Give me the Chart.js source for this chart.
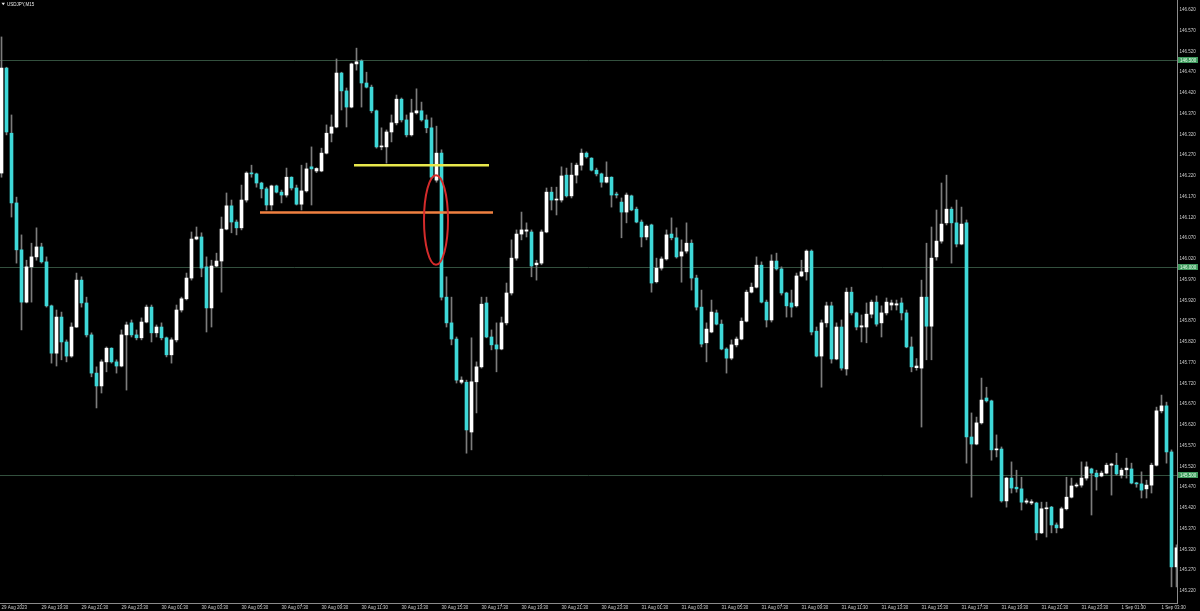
<!DOCTYPE html>
<html><head><meta charset="utf-8">
<script src="https://cdn.jsdelivr.net/npm/chart.js@4.4.0/dist/chart.umd.min.js"></script>
<style>html,body{margin:0;padding:0;background:#000;overflow:hidden}canvas{display:block}</style>
</head><body>
<canvas id="c" width="1200" height="611"></canvas>
<script>
const symbolTitle = "USDJPY,M15";

const opens = [
146.227,146.480,146.323,146.155,146.042,145.916,146.001,146.025,146.049,146.013,
145.907,145.793,145.880,145.820,145.786,145.856,145.969,145.914,145.837,145.745,
145.714,145.772,145.805,145.772,145.762,145.837,145.866,145.837,145.830,145.868,
145.904,145.842,145.856,145.830,145.789,145.825,145.897,145.924,145.974,146.068,
146.073,146.001,145.902,146.003,146.015,146.092,146.148,146.109,146.095,146.162,
146.227,146.225,146.203,146.189,146.150,146.196,146.181,146.174,146.217,146.191,
146.152,146.184,146.242,146.232,146.232,146.275,146.323,146.338,146.468,146.425,
146.386,146.490,146.497,146.444,146.434,146.377,146.290,146.290,146.326,146.348,
146.405,146.355,146.319,146.372,146.377,146.355,146.336,146.210,146.275,145.928,
145.866,145.827,145.723,145.723,145.603,145.724,145.760,145.914,145.832,145.813,
145.803,145.866,145.938,146.022,146.080,146.087,146.085,146.006,146.010,146.085,
146.181,146.162,146.162,146.222,146.172,146.222,146.246,146.275,146.263,146.234,
146.225,146.205,146.217,146.176,146.157,146.133,146.172,146.140,146.109,146.073,
146.102,145.965,145.998,146.020,146.080,146.071,146.027,146.039,146.058,145.974,
145.904,145.818,145.844,145.890,145.863,145.803,145.781,145.813,145.827,145.870,
145.940,145.952,146.005,145.916,145.873,146.015,145.996,145.938,145.914,145.907,
145.979,145.989,146.039,145.846,145.786,145.866,145.907,145.779,145.856,145.755,
145.940,145.890,145.856,145.856,145.887,145.916,145.866,145.890,145.909,145.909,
145.914,145.890,145.808,145.758,145.757,145.928,145.858,146.025,146.063,146.107,
146.140,146.107,146.056,146.107,145.591,145.574,145.625,145.685,145.678,145.560,
145.562,145.437,145.492,145.470,145.466,145.434,145.432,145.432,145.360,145.418,
145.422,145.379,145.372,145.418,145.446,145.473,145.475,145.492,145.514,145.504,
145.497,145.504,145.523,145.523,145.499,145.512,145.514,145.480,145.478,145.466,
145.475,145.523,145.654,145.666,145.555,145.278];

const highs = [
146.555,146.482,146.367,146.169,146.078,146.017,146.058,146.095,146.058,146.025,
145.909,145.897,145.892,145.825,145.866,145.986,145.977,145.928,145.842,145.760,
145.777,145.808,145.806,145.777,145.849,145.868,145.873,145.849,145.878,145.909,
145.909,145.861,145.866,145.832,145.830,145.909,145.928,145.986,146.085,146.097,
146.083,146.025,146.017,146.034,146.121,146.179,146.162,146.114,146.198,146.230,
146.246,146.227,146.205,146.193,146.198,146.198,146.186,146.239,146.218,146.198,
146.246,146.251,146.290,146.240,146.287,146.343,146.367,146.502,146.470,146.432,
146.492,146.528,146.500,146.470,146.439,146.379,146.336,146.331,146.367,146.415,
146.408,146.367,146.405,146.430,146.398,146.367,146.360,146.340,146.283,145.977,
145.928,145.832,145.736,145.728,145.830,145.772,145.928,145.928,145.849,145.866,
145.880,145.962,146.066,146.090,146.133,146.107,146.090,146.017,146.090,146.191,
146.193,146.193,146.242,146.239,146.251,146.251,146.285,146.278,146.264,146.239,
146.227,146.254,146.218,146.181,146.167,146.179,146.174,146.145,146.114,146.102,
146.104,146.022,146.025,146.090,146.119,146.095,146.066,146.107,146.066,145.981,
145.945,145.866,145.921,145.897,145.873,145.806,145.825,145.832,145.878,145.945,
145.962,146.025,146.013,145.921,146.030,146.034,146.001,145.940,145.945,145.986,
146.017,146.042,146.042,145.856,145.873,145.916,145.916,145.866,145.873,145.950,
145.952,145.892,145.885,145.914,145.921,145.931,145.907,145.926,145.921,145.921,
145.926,145.897,145.832,145.780,145.969,146.058,146.097,146.138,146.203,146.222,
146.145,146.162,146.145,146.114,145.649,145.639,145.733,145.711,145.680,145.596,
145.567,145.494,145.531,145.511,145.494,145.442,145.440,145.434,145.434,145.434,
145.424,145.384,145.422,145.494,145.492,145.480,145.531,145.531,145.516,145.511,
145.509,145.528,145.528,145.552,145.516,145.540,145.528,145.482,145.507,145.487,
145.528,145.663,145.692,145.675,145.560,145.331];

const lows = [
146.217,146.319,146.121,146.010,145.849,145.914,145.916,146.017,146.010,145.904,
145.769,145.762,145.777,145.772,145.783,145.855,145.904,145.832,145.736,145.661,
145.697,145.748,145.769,145.745,145.760,145.704,145.832,145.825,145.825,145.866,
145.820,145.832,145.825,145.784,145.769,145.820,145.892,145.921,145.969,146.066,
145.977,145.844,145.856,146.001,145.940,146.090,146.083,146.078,146.090,146.157,
146.217,146.193,146.167,146.138,146.138,146.179,146.155,146.169,146.186,146.150,
146.138,146.181,146.150,146.228,146.230,146.273,146.302,146.336,146.379,146.338,
146.384,146.475,146.386,146.432,146.372,146.287,146.283,146.251,146.302,146.343,
146.350,146.314,146.316,146.369,146.352,146.324,146.213,146.205,145.921,145.856,
145.813,145.721,145.719,145.552,145.560,145.649,145.757,145.830,145.801,145.748,
145.801,145.861,145.933,146.017,146.066,146.073,145.977,145.969,146.006,146.083,
146.138,146.126,146.157,146.169,146.167,146.203,146.234,146.263,146.232,146.220,
146.193,146.203,146.145,146.167,146.071,146.107,146.136,146.107,146.049,146.066,
145.940,145.962,145.993,146.017,146.066,146.022,145.964,146.034,145.945,145.897,
145.808,145.772,145.842,145.861,145.801,145.745,145.777,145.808,145.825,145.868,
145.938,145.950,145.914,145.856,145.868,145.993,145.933,145.880,145.880,145.904,
145.977,145.969,145.837,145.784,145.711,145.856,145.769,145.777,145.752,145.740,
145.885,145.849,145.820,145.818,145.878,145.858,145.832,145.885,145.897,145.897,
145.873,145.806,145.748,145.752,145.615,145.777,145.777,146.017,146.058,146.102,
146.010,146.049,146.054,145.528,145.446,145.572,145.622,145.675,145.535,145.543,
145.434,145.422,145.456,145.458,145.415,145.430,145.428,145.343,145.358,145.350,
145.360,145.360,145.370,145.415,145.444,145.470,145.470,145.487,145.403,145.463,
145.495,145.502,145.451,145.499,145.492,145.492,145.478,145.470,145.444,145.444,
145.456,145.521,145.649,145.528,145.230,145.230];

const closes = [
146.480,146.326,146.155,146.042,145.916,146.001,146.025,146.049,146.013,145.907,
145.793,145.880,145.820,145.786,145.856,145.969,145.914,145.837,145.745,145.714,
145.772,145.805,145.772,145.762,145.837,145.861,145.837,145.830,145.868,145.904,
145.842,145.856,145.830,145.789,145.825,145.897,145.924,145.974,146.068,146.073,
145.998,145.902,146.003,146.015,146.092,146.148,146.109,146.095,146.162,146.227,
146.225,146.203,146.189,146.150,146.196,146.181,146.174,146.217,146.191,146.152,
146.184,146.237,146.237,146.238,146.275,146.323,146.338,146.468,146.425,146.386,
146.490,146.495,146.444,146.434,146.377,146.290,146.292,146.326,146.348,146.405,
146.355,146.319,146.372,146.377,146.355,146.336,146.217,146.275,145.928,145.866,
145.827,145.728,145.728,145.608,145.724,145.760,145.911,145.832,145.813,145.803,
145.866,145.938,146.022,146.080,146.090,146.090,146.003,146.010,146.085,146.181,
146.162,146.164,146.220,146.172,146.222,146.246,146.275,146.266,146.234,146.225,
146.205,146.217,146.174,146.174,146.133,146.174,146.138,146.109,146.073,146.099,
145.962,145.998,146.020,146.078,146.071,146.025,146.037,146.058,145.974,145.904,
145.815,145.851,145.892,145.863,145.803,145.781,145.813,145.827,145.870,145.940,
145.952,146.005,145.916,145.873,146.015,145.996,145.938,145.907,145.904,145.979,
145.989,146.039,145.844,145.786,145.866,145.907,145.779,145.856,145.757,145.940,
145.890,145.856,145.859,145.887,145.916,145.863,145.890,145.916,145.914,145.912,
145.890,145.808,145.760,145.762,145.928,145.858,146.022,146.063,146.104,146.140,
146.107,146.056,146.104,145.591,145.574,145.625,145.680,145.678,145.560,145.562,
145.437,145.492,145.468,145.466,145.434,145.437,145.435,145.360,145.418,145.420,
145.379,145.372,145.418,145.446,145.473,145.475,145.492,145.519,145.504,145.495,
145.504,145.523,145.526,145.502,145.511,145.516,145.480,145.478,145.463,145.475,
145.523,145.654,145.666,145.555,145.278,145.324];

const xTickLabels = ["29 Aug 2023","29 Aug 19:30","29 Aug 21:30","29 Aug 23:30","30 Aug 01:30","30 Aug 03:30",
"30 Aug 05:30","30 Aug 07:30","30 Aug 09:30","30 Aug 11:30","30 Aug 13:30","30 Aug 15:30","30 Aug 17:30",
"30 Aug 19:30","30 Aug 21:30","30 Aug 23:30","31 Aug 01:30","31 Aug 03:30","31 Aug 05:30","31 Aug 07:30",
"31 Aug 09:30","31 Aug 11:30","31 Aug 13:30","31 Aug 15:30","31 Aug 17:30","31 Aug 19:30","31 Aug 21:30",
"31 Aug 23:30","1 Sep 01:30","1 Sep 03:30"];
const barsPerLabel = 8;

const yTickValues = [146.620,146.570,146.520,146.470,146.420,146.370,146.320,146.270,146.220,146.170,
146.120,146.070,146.020,145.970,145.920,145.870,145.820,145.770,145.720,145.670,
145.620,145.570,145.520,145.470,145.420,145.370,145.320,145.270,145.220];

const levelPrices = [146.500, 146.000, 145.500];

// hand-drawn marks (in bar-index / price coordinates)
const yellowLine = {from: 70.5, to: 97.5, price: 146.246};
const orangeLine = {from: 51.7, to: 98.3, price: 146.132};
const redEllipse = {center: 86.9, price: 146.114, halfBars: 2.4, halfPrice: 0.108};

// ---- styles ----
const BULL = '#ffffff', BEAR = '#3ed8d8', WICK = '#7c7c7c';
const AXIS = '#8a8a8a', TXT = '#cfcfcf', LEVEL = '#33503e';
const LEVEL_BOX = '#3f9a5e', LEVEL_TXT = '#e6ffe9';
const FONT = 'Liberation Sans';

const idx = opens.map((_, i) => i);
const bodyData = idx.map(i => ({x: i, y: [opens[i], closes[i]]}));
const wickData = idx.map(i => ({x: i, y: [lows[i], highs[i]]}));
const bodyColors = idx.map(i => closes[i] >= opens[i] ? BULL : BEAR);
const xTickIdx = xTickLabels.map((_, k) => k * barsPerLabel);

const overlay = {
  id: 'overlay',
  beforeDatasetsDraw(chart) {
    const {ctx, chartArea: a, scales: {y}} = chart;
    ctx.save();
    ctx.strokeStyle = LEVEL; ctx.lineWidth = 1;
    levelPrices.forEach(p => {
      const py = Math.round(y.getPixelForValue(p)) + 0.5;
      ctx.beginPath(); ctx.moveTo(a.left, py); ctx.lineTo(a.right, py); ctx.stroke();
    });
    ctx.restore();
  },
  afterDatasetsDraw(chart) {
    const {ctx, scales: {x, y}} = chart;
    ctx.save();
    ctx.lineCap = 'butt';
    [[yellowLine, '#e8e84c'], [orangeLine, '#ef8040']].forEach(([s, col]) => {
      const py = y.getPixelForValue(s.price);
      ctx.strokeStyle = col; ctx.lineWidth = 2.5;
      ctx.beginPath(); ctx.moveTo(x.getPixelForValue(s.from), py); ctx.lineTo(x.getPixelForValue(s.to), py); ctx.stroke();
    });
    const cx = x.getPixelForValue(redEllipse.center);
    const cy = y.getPixelForValue(redEllipse.price);
    const rx = x.getPixelForValue(redEllipse.center + redEllipse.halfBars) - cx;
    const ry = Math.abs(y.getPixelForValue(redEllipse.price + redEllipse.halfPrice) - cy);
    ctx.strokeStyle = '#d42b2b'; ctx.lineWidth = 2;
    ctx.beginPath(); ctx.ellipse(cx, cy, rx, ry, 0, 0, Math.PI * 2); ctx.stroke();
    ctx.restore();
  },
  afterDraw(chart) {
    const {ctx, chartArea: a, scales: {y}} = chart;
    ctx.save();
    ctx.font = '4.5px "' + FONT + '"';
    ctx.textBaseline = 'middle';
    levelPrices.forEach(p => {
      const py = Math.round(y.getPixelForValue(p));
      ctx.fillStyle = LEVEL_BOX;
      ctx.fillRect(a.right + 1, py - 3, 20, 6);
      ctx.fillStyle = LEVEL_TXT;
      ctx.textAlign = 'left';
      ctx.fillText(p.toFixed(3), a.right + 3, py + 0.5);
    });
    // title
    ctx.fillStyle = '#e8e8e8';
    ctx.beginPath(); ctx.moveTo(1.5, 2.8); ctx.lineTo(5, 2.8); ctx.lineTo(3.25, 5.3); ctx.closePath(); ctx.fill();
    ctx.textAlign = 'left';
    ctx.fillText(symbolTitle, 7, 4.3);
    ctx.restore();
  }
};

new Chart(document.getElementById('c'), {
  type: 'bar',
  data: {
    datasets: [
      {data: bodyData, backgroundColor: bodyColors, barThickness: 3, minBarLength: 1, grouped: false, order: 0, borderWidth: 0},
      {data: wickData, backgroundColor: WICK, barThickness: 1, grouped: false, order: 1, borderWidth: 0}
    ]
  },
  options: {
    responsive: false, animation: false, devicePixelRatio: 1,
    layout: {padding: 0},
    plugins: {legend: {display: false}, tooltip: {enabled: false}, title: {display: false}},
    scales: {
      x: {
        type: 'linear', min: -0.3, max: 235.1, offset: false,
        afterBuildTicks: s => { s.ticks = xTickIdx.map(v => ({value: v})); },
        afterFit: s => { s.height = 8; s.paddingLeft = 0; s.paddingRight = 0; },
        grid: {drawOnChartArea: false, drawTicks: true, tickLength: 2, color: AXIS},
        border: {display: true, color: AXIS},
        ticks: {autoSkip: false, maxRotation: 0, minRotation: 0, align: 'start', padding: 0, color: TXT,
          font: {family: FONT, size: 4.5},
          callback: v => xTickLabels[xTickIdx.indexOf(v)]}
      },
      y: {
        position: 'right', min: 145.191, max: 146.644,
        afterBuildTicks: s => { s.ticks = yTickValues.map(v => ({value: v})); },
        afterFit: s => { s.width = 23; s.paddingTop = 0; s.paddingBottom = 0; },
        grid: {drawOnChartArea: false, drawTicks: true, tickLength: 1, color: AXIS},
        border: {display: true, color: AXIS},
        ticks: {padding: 1.5, color: TXT, font: {family: FONT, size: 4.5}, callback: v => v.toFixed(3)}
      }
    }
  },
  plugins: [overlay]
});
</script>
</body></html>
